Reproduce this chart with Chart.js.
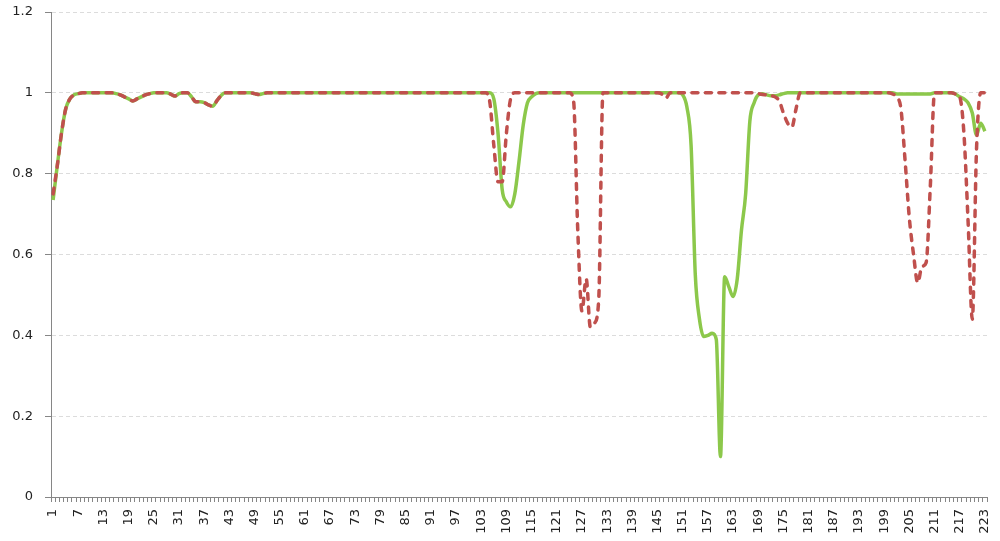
<!DOCTYPE html>
<html>
<head>
<meta charset="utf-8">
<title>Series chart</title>
<script src="https://cdn.jsdelivr.net/npm/chart.js@4.4.1/dist/chart.umd.min.js"></script>
<style>
    html, body { margin: 0; padding: 0; background: #fff; }
    #wrap { width: 1000px; height: 541px; }
</style>
</head>
<body>
<div id="wrap"><canvas id="chart" width="1000" height="541"></canvas></div>
<script>
// --- Data ---
const categories = Array.from({ length: 223 }, (_, i) => String(i + 1));

const xTickLabels = ['1', '7', '13', '19', '25', '31', '37', '43', '49', '55', '61', '67', '73',
    '79', '85', '91', '97', '103', '109', '115', '121', '127', '133', '139', '145', '151', '157',
    '163', '169', '175', '181', '187', '193', '199', '205', '211', '217', '223'];

const yTickLabels = ['0', '0.2', '0.4', '0.6', '0.8', '1', '1.2'];

// green solid series
const seriesGreen = [
    0.735, 0.82, 0.9, 0.96, 0.985, 0.995, 0.998, 1, 1, 1,
    1, 1, 1, 1, 1, 0.998, 0.995, 0.99, 0.985, 0.98,
    0.985, 0.99, 0.995, 0.998, 1, 1, 1, 1, 0.997, 0.992,
    0.998, 1, 1, 0.99, 0.978, 0.978, 0.976, 0.97, 0.967, 0.98,
    0.993, 1, 1, 1, 1, 1, 1, 1, 0.998, 0.996,
    0.998, 1, 1, 1, 1, 1, 1, 1, 1, 1,
    1, 1, 1, 1, 1, 1, 1, 1, 1, 1,
    1, 1, 1, 1, 1, 1, 1, 1, 1, 1,
    1, 1, 1, 1, 1, 1, 1, 1, 1, 1,
    1, 1, 1, 1, 1, 1, 1, 1, 1, 1,
    1, 1, 1, 1, 1, 0.985, 0.9, 0.76, 0.73, 0.718,
    0.75, 0.83, 0.92, 0.975, 0.99, 0.998, 1, 1, 1, 1,
    1, 1, 1, 1, 1, 1, 1, 1, 1, 1,
    1, 1, 1, 1, 1, 1, 1, 1, 1, 1,
    1, 1, 1, 1, 1, 1, 1, 1, 1, 1,
    0.995, 0.965, 0.87, 0.55, 0.44, 0.397, 0.4, 0.405, 0.39, 0.1,
    0.545, 0.52, 0.496, 0.54, 0.66, 0.75, 0.93, 0.975, 0.995, 0.998,
    0.995, 0.993, 0.993, 0.995, 0.998, 1, 1, 1, 1, 1,
    1, 1, 1, 1, 1, 1, 1, 1, 1, 1,
    1, 1, 1, 1, 1, 1, 1, 1, 1, 1,
    1, 0.997, 0.997, 0.997, 0.997, 0.997, 0.997, 0.997, 0.997, 0.997,
    1, 1, 1, 1, 1, 0.997, 0.99, 0.985, 0.975, 0.95,
    0.895, 0.925, 0.905
];

// red dashed series
const seriesRed = [
    0.75, 0.82, 0.9, 0.96, 0.985, 0.995, 0.998, 1, 1, 1,
    1, 1, 1, 1, 1, 0.998, 0.995, 0.99, 0.985, 0.98,
    0.985, 0.99, 0.995, 0.998, 1, 1, 1, 1, 0.997, 0.992,
    0.998, 1, 1, 0.99, 0.978, 0.978, 0.976, 0.97, 0.967, 0.98,
    0.993, 1, 1, 1, 1, 1, 1, 1, 0.998, 0.996,
    0.998, 1, 1, 1, 1, 1, 1, 1, 1, 1,
    1, 1, 1, 1, 1, 1, 1, 1, 1, 1,
    1, 1, 1, 1, 1, 1, 1, 1, 1, 1,
    1, 1, 1, 1, 1, 1, 1, 1, 1, 1,
    1, 1, 1, 1, 1, 1, 1, 1, 1, 1,
    1, 1, 1, 1, 0.98, 0.87, 0.78, 0.78, 0.9, 0.985,
    1, 1, 1, 1, 1, 1, 1, 1, 1, 1,
    1, 1, 1, 1, 0.98, 0.66, 0.46, 0.54, 0.42, 0.43,
    0.49, 1, 1, 1, 1, 1, 1, 1, 1, 1,
    1, 1, 1, 1, 1, 0.997, 0.987, 1, 1, 1,
    1, 1, 1, 1, 1, 1, 1, 1, 1, 1,
    1, 1, 1, 1, 1, 1, 1, 1, 0.998, 0.996,
    0.995, 0.993, 0.99, 0.98, 0.95, 0.925, 0.915, 0.96, 1, 1,
    1, 1, 1, 1, 1, 1, 1, 1, 1, 1,
    1, 1, 1, 1, 1, 1, 1, 1, 1, 1,
    0.997, 0.99, 0.96, 0.83, 0.69, 0.6, 0.53, 0.57, 0.58, 0.77,
    1, 1, 1, 1, 1, 0.997, 0.99, 0.9, 0.68, 0.44,
    0.86, 1, 1
];

// --- Chart ---
const axisGrey = '#868686';
const labelFont = { family: 'DejaVu Sans', size: 13 };

new Chart(document.getElementById('chart'), {
    type: 'line',
    data: {
        labels: categories,
        datasets: [
            {
                label: 'Series 1',
                data: seriesGreen,
                borderColor: '#8cc84b',
                borderWidth: 3.5,
                pointRadius: 0,
                cubicInterpolationMode: 'monotone',
                order: 1
            },
            {
                label: 'Series 2',
                data: seriesRed,
                borderColor: '#c0504d',
                borderWidth: 3.5,
                borderDash: [6, 7.5],
                borderCapStyle: 'round',
                pointRadius: 0,
                cubicInterpolationMode: 'monotone',
                order: 0
            }
        ]
    },
    options: {
        responsive: false,
        devicePixelRatio: 1,
        animation: false,
        layout: { padding: { top: 12, right: 13, left: 0, bottom: 0 } },
        plugins: { legend: { display: false }, tooltip: { enabled: false } },
        scales: {
            x: {
                type: 'category',
                offset: true,
                grid: { offset: true, drawOnChartArea: false, tickLength: 5, color: axisGrey },
                border: { color: axisGrey, width: 1 },
                ticks: {
                    autoSkip: false,
                    minRotation: 90,
                    maxRotation: 90,
                    padding: 7,
                    color: '#222',
                    font: labelFont,
                    callback: (v, i) => xTickLabels.includes(categories[i]) ? categories[i] : ''
                },
                afterFit: (s) => { s.height = 44; s.paddingLeft = 0; s.paddingRight = 0; }
            },
            y: {
                min: 0,
                max: 1.2,
                grid: { color: '#dcdcdc', tickColor: axisGrey, tickLength: 6 },
                border: { color: axisGrey, width: 1, dash: [4, 3] },
                ticks: {
                    stepSize: 0.2,
                    padding: 12,
                    color: '#222',
                    font: labelFont,
                    callback: (v, i) => yTickLabels[i]
                },
                afterFit: (s) => { s.width = 51; s.paddingTop = 0; s.paddingBottom = 0; }
            }
        }
    }
});
</script>
</body>
</html>
